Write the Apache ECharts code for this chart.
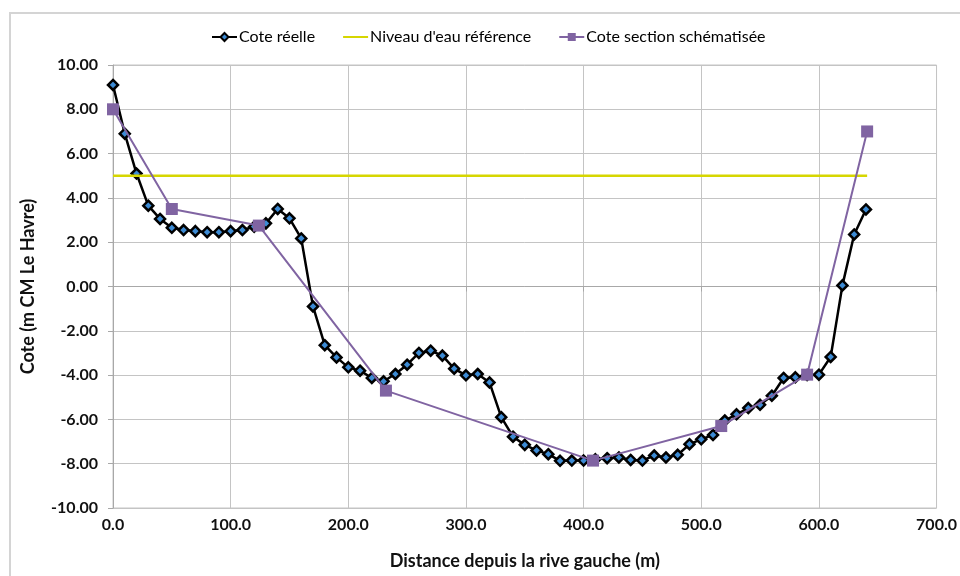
<!DOCTYPE html>
<html>
<head>
<meta charset="utf-8">
<script src="https://cdn.jsdelivr.net/npm/echarts@6/dist/echarts.min.js"></script>
<style>
html,body{margin:0;padding:0;background:#fff;}
#chart{width:960px;height:576px;}
</style>
</head>
<body>
<div id="chart"></div>
<script>
// Cote réelle (distance m, cote m)
const reelX = [0,10,20,30,40,50,60,70,80,90,100,110,120,130,140,150,160,170,180,190,200,210,220,230,240,250,260,270,280,290,300,310,320,330,340,350,360,370,380,390,400,410,420,430,440,450,460,470,480,490,500,510,520,530,540,550,560,570,580,590,600,610,620,630,640];
const reelY = [9.1,6.9,5.1,3.65,3.05,2.65,2.55,2.5,2.45,2.45,2.5,2.55,2.7,2.85,3.5,3.08,2.17,-0.9,-2.65,-3.2,-3.65,-3.8,-4.13,-4.28,-3.95,-3.53,-3.0,-2.9,-3.12,-3.71,-4.01,-3.95,-4.33,-5.9,-6.78,-7.15,-7.4,-7.57,-7.87,-7.86,-7.86,-7.8,-7.75,-7.72,-7.83,-7.86,-7.63,-7.72,-7.6,-7.12,-6.9,-6.7,-6.05,-5.77,-5.49,-5.34,-4.93,-4.13,-4.1,-4.0,-3.98,-3.18,0.05,2.35,3.48];
// Niveau d'eau référence
const niveauX = [0,641];
const niveauY = [5.0,5.0];
// Cote section schématisée
const schemaX = [0,50,124,232,408,517,590,641];
const schemaY = [8.0,3.5,2.75,-4.7,-7.86,-6.3,-3.98,7.0];
// axes
const yTicks = {min:-10,max:10,interval:2};
const xTicks = {min:0,max:700,interval:100};

const zip = (a,b)=>a.map((v,i)=>[v,b[i]]);
const FONT = 'Lato';

const chart = echarts.init(document.getElementById('chart'), null, {renderer:'canvas'});
chart.setOption({
  animation:false,
  backgroundColor:'#fff',
  textStyle:{fontFamily:FONT},
  graphic:[{type:'rect',shape:{x:10,y:13,width:960,height:580},style:{fill:'none',stroke:'#d4d4d4',lineWidth:2},silent:true,z:-1}],
  legend:{
    top:24,left:206,itemGap:27,itemWidth:25,itemHeight:10,
    textStyle:{fontFamily:FONT,fontSize:16,color:'#000',padding:[0,0,0,-3]},
    data:['Cote réelle',{name:"Niveau d'eau référence",itemStyle:{opacity:0}},'Cote section schématisée']
  },
  grid:{left:113,right:21,top:65,bottom:68,show:true,borderColor:'#c4c4c4',borderWidth:1},
  xAxis:{
    type:'value',min:xTicks.min,max:xTicks.max,interval:xTicks.interval,
    name:'Distance depuis la rive gauche (m)',nameLocation:'middle',nameGap:44,
    nameTextStyle:{fontFamily:FONT,fontWeight:'bold',fontSize:18,color:'#111'},
    axisLine:{show:true,lineStyle:{color:'#a8a8a8',width:1}},
    axisTick:{show:true,length:5,lineStyle:{color:'#a8a8a8'}},
    axisLabel:{margin:9,fontFamily:FONT,fontWeight:'bold',fontSize:16,color:'#111',formatter:v=>v.toFixed(1)},
    splitLine:{show:true,lineStyle:{color:'#c4c4c4',width:1}}
  },
  yAxis:{
    type:'value',min:yTicks.min,max:yTicks.max,interval:yTicks.interval,
    name:'Cote (m CM Le Havre)',nameLocation:'middle',nameGap:76,nameRotate:90,
    nameTextStyle:{fontFamily:FONT,fontWeight:'bold',fontSize:18,color:'#111'},
    axisLine:{show:true,lineStyle:{color:'#a8a8a8',width:1}},
    axisTick:{show:true,length:5,inside:false,lineStyle:{color:'#a8a8a8'}},
    axisLabel:{margin:15,fontFamily:FONT,fontWeight:'bold',fontSize:16,color:'#111',formatter:v=>v.toFixed(2)},
    splitLine:{show:true,lineStyle:{color:'#c4c4c4',width:1}}
  },
  series:[
    {
      name:'Cote réelle',type:'line',data:zip(reelX,reelY),
      symbol:'diamond',symbolSize:10,showAllSymbol:true,
      lineStyle:{color:'#000',width:2.5},
      itemStyle:{color:'#3d8bd4',borderColor:'#000',borderWidth:2.5},
      z:2
    },
    {
      name:"Niveau d'eau référence",type:'line',data:zip(niveauX,niveauY),
      symbol:'none',lineStyle:{color:'#d6d600',width:2.5},itemStyle:{color:'#d6d600'},
      z:3
    },
    {
      name:'Cote section schématisée',type:'line',data:zip(schemaX,schemaY),
      symbol:'rect',symbolSize:12,showAllSymbol:true,
      lineStyle:{color:'#8064a2',width:2},
      itemStyle:{color:'#8064a2',borderColor:'#8064a2',borderWidth:0},
      z:4
    }
  ]
});
</script>
</body>
</html>
